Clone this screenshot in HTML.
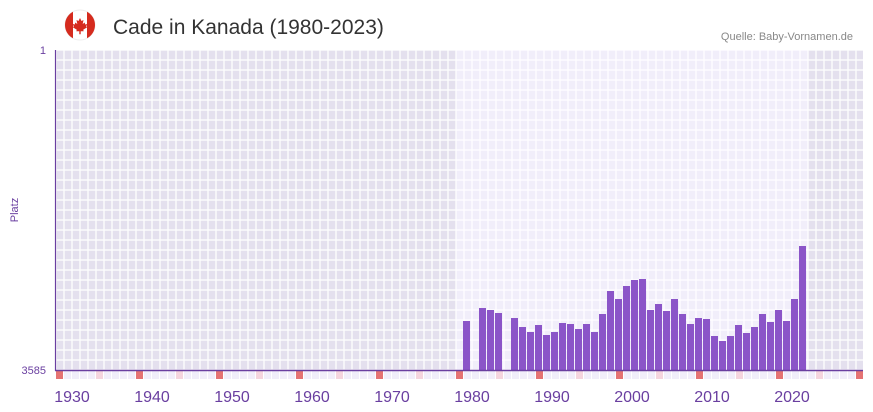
<!DOCTYPE html>
<html><head><meta charset="utf-8"><style>
body{margin:0;width:873px;height:412px;background:#fff;font-family:"Liberation Sans",sans-serif;position:relative;overflow:hidden}
.a{position:absolute}
</style></head><body>
<svg class="a" style="left:0;top:0" width="873" height="412">
<defs>
<pattern id="g" x="56" y="50" width="8" height="10" patternUnits="userSpaceOnUse">
<rect x="0" y="0" width="8" height="10" fill="none" stroke="#fff" stroke-width="1.4" opacity="0.9"/>
</pattern>
</defs>
<rect x="56" y="50" width="400" height="320" fill="#e4e0ee"/>
<rect x="456" y="50" width="352" height="320" fill="#f1eefa"/>
<rect x="808" y="50" width="55" height="320" fill="#e4e0ee"/>
<rect x="56" y="50" width="807" height="320" fill="url(#g)"/>
<g id="strip"></g>
<g id="bars" fill="#8b55c8"></g>
<line x1="55.5" y1="50" x2="55.5" y2="371" stroke="#6a3fa0" stroke-width="1.2"/>
<line x1="55" y1="370.5" x2="863" y2="370.5" stroke="#6a3fa0" stroke-width="1.5"/>
<circle cx="80" cy="25" r="15" fill="#fff" stroke="#eee"/>
<path d="M65 25a15 15 0 0 1 8-13.3v26.6A15 15 0 0 1 65 25z" fill="#d52b1e"/>
<path d="M95 25a15 15 0 0 0-8-13.3v26.6A15 15 0 0 0 95 25z" fill="#d52b1e"/>
<path d="M80 18l1.5 3 2-1-.8 4 2-1.5.5 2 2-.5-1 2.5 1 .8-4 2.5.5 1.5h-3v3h-1.4v-3h-3l.5-1.5-4-2.5 1-.8-1-2.5 2 .5.5-2 2 1.5-.8-4 2 1z" fill="#d52b1e"/>
<text x="113" y="34" font-size="21" fill="#333">Cade in Kanada (1980-2023)</text>
<text x="853" y="40" font-size="11" fill="#888" text-anchor="end">Quelle: Baby-Vornamen.de</text>
<text x="46" y="54" font-size="11" fill="#6a3fa0" text-anchor="end">1</text>
<text x="46" y="374" font-size="11" fill="#6a3fa0" text-anchor="end">3585</text>
<text transform="translate(18,210) rotate(-90)" font-size="11" fill="#6a3fa0" text-anchor="middle">Platz</text>
<g id="lbl" font-size="16" fill="#6a3fa0" text-anchor="middle"></g>
</svg>
<script>
var ns="http://www.w3.org/2000/svg";
function el(p,t,a){var e=document.createElementNS(ns,t);for(var k in a)e.setAttribute(k,a[k]);document.getElementById(p).appendChild(e);return e}
for(var i=0;i<101;i++){var x=56+i*8;if(x>=863)break;var c=i%10==0?"#e57373":(i%5==0?"#f5d5de":"#f1eefa");el("strip","rect",{x:x,y:371,width:7,height:8,fill:c});}
var tops=[321,0,308,310,313,0,318,327,332,325,335,332,323,324,329,324,332,314,291,299,286,280,279,310,304,311,299,314,324,318,319,336,341,336,325,333,327,314,322,310,321,299,246];
tops.forEach(function(t,i){if(t)el("bars","rect",{x:463+i*8,y:t,width:7,height:370-t});});
for(var y=1930;y<=2020;y+=10){var t=el("lbl","text",{x:72+(y-1930)*8,y:402});t.textContent=y;}
</script>
</body></html>
